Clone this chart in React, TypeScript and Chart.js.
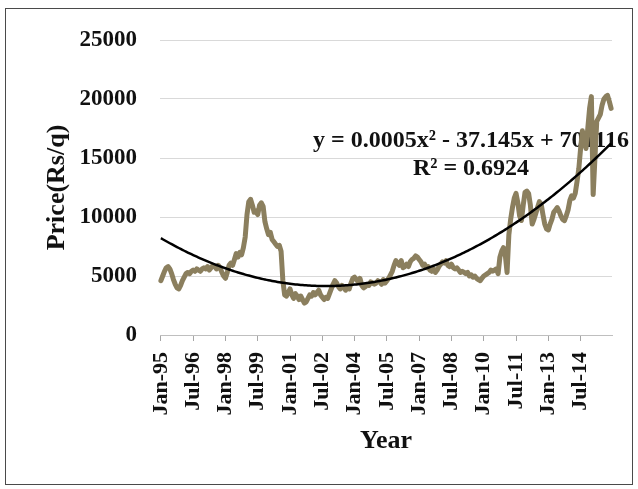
import React, { useEffect, useRef } from "react";
import { Chart, registerables } from "chart.js";

Chart.register(...registerables);

// Monthly price (Rs/q), Jan 1995 – Dec 2015, one row per year
const prices: number[] = [
  4600, 5000, 5400, 5700, 5800, 5600, 5200, 4700, 4300, 4000, 3900, 4200, // 1995
  4600, 4900, 5200, 5300, 5200, 5400, 5500, 5400, 5600, 5500, 5400, 5600, // 1996
  5700, 5600, 5800, 5500, 5700, 5900, 5800, 5600, 5900, 5700, 5300, 5000, // 1997
  4800, 5300, 5900, 6100, 5900, 6400, 6900, 6600, 7000, 6800, 7400, 8300, // 1998
  10200, 11300, 11500, 11000, 10400, 10500, 10200, 11000, 11200, 10900, 9600, 9000, // 1999
  8500, 8700, 8100, 7900, 7700, 7500, 7600, 7100, 4600, 3400, 3300, 3600, // 2000
  3900, 3400, 3100, 3500, 3300, 3000, 3300, 3000, 2700, 2800, 3100, 3400, // 2001
  3300, 3600, 3400, 3600, 3800, 3400, 3200, 3000, 3200, 3100, 3500, 3900, // 2002
  4300, 4600, 4400, 4100, 3900, 4200, 4000, 3800, 4100, 3900, 4400, 4800, // 2003
  4900, 4700, 4500, 4800, 4200, 4000, 4100, 4300, 4200, 4500, 4400, 4300, // 2004
  4400, 4600, 4500, 4300, 4700, 4400, 4600, 4800, 5100, 5400, 5900, 6300, // 2005
  6100, 5900, 6300, 5700, 5800, 6000, 5800, 6200, 6400, 6500, 6700, 6600, // 2006
  6400, 6200, 5900, 6000, 5700, 5800, 5500, 5400, 5600, 5300, 5500, 5800, // 2007
  6000, 6200, 6100, 6300, 5900, 5800, 6000, 5700, 5600, 5700, 5500, 5300, // 2008
  5400, 5300, 5200, 5300, 5000, 5100, 4900, 5000, 4800, 4700, 4600, 4800, // 2009
  5000, 5100, 5200, 5300, 5500, 5400, 5500, 5600, 5200, 6600, 7100, 7400, // 2010
  6800, 5300, 8500, 9800, 10800, 11600, 12000, 11200, 10100, 9700, 11000, 12100, // 2011
  12200, 12000, 11000, 9400, 9800, 10300, 10800, 11300, 11100, 10200, 9400, 9000, // 2012
  8900, 9400, 9800, 10400, 10600, 10800, 10500, 10100, 9800, 9700, 10100, 10600, // 2013
  11400, 11800, 11600, 12000, 13000, 14100, 15800, 17300, 16500, 15800, 17500, 19200, // 2014
  20200, 11900, 15000, 18100, 18400, 18700, 19500, 20000, 20200, 20300, 19800, 19200, // 2015
];

const monthNames = ["Jan", "Feb", "Mar", "Apr", "May", "Jun", "Jul", "Aug", "Sep", "Oct", "Nov", "Dec"];
const firstYear = 1995;
const labelEvery = 18; // one axis label every 18 months

const yTicks = [0, 5000, 10000, 15000, 20000, 25000];
const equationText = "y = 0.0005x\u00B2 - 37.145x + 701116";
const rSquaredText = "R\u00B2 = 0.6924";

const monthLabels: string[] = prices.map((_, i) => {
  const yy = (firstYear + Math.floor(i / 12)) % 100;
  return `${monthNames[i % 12]}-${String(yy).padStart(2, "0")}`;
});

// Least-squares polynomial trend (order 2) over the month index
function quadraticTrend(ys: number[]): number[] {
  let s0 = 0, s1 = 0, s2 = 0, s3 = 0, s4 = 0, t0 = 0, t1 = 0, t2 = 0;
  ys.forEach((y, x) => {
    s0 += 1; s1 += x; s2 += x * x; s3 += x ** 3; s4 += x ** 4;
    t0 += y; t1 += x * y; t2 += x * x * y;
  });
  const m = [
    [s0, s1, s2, t0],
    [s1, s2, s3, t1],
    [s2, s3, s4, t2],
  ];
  for (let c = 0; c < 3; c++) {
    for (let r = c + 1; r < 3; r++) {
      const f = m[r][c] / m[c][c];
      for (let k = c; k < 4; k++) m[r][k] -= f * m[c][k];
    }
  }
  const sol = [0, 0, 0];
  for (let r = 2; r >= 0; r--) {
    let v = m[r][3];
    for (let k = r + 1; k < 3; k++) v -= m[r][k] * sol[k];
    sol[r] = v / m[r][r];
  }
  return ys.map((_, x) => sol[0] + sol[1] * x + sol[2] * x * x);
}

const SERIF = '"Liberation Serif", "Times New Roman", serif';

const equationPlugin = {
  id: "equationLabel",
  beforeDatasetsDraw(chart: any) {
    const { ctx, chartArea } = chart;
    ctx.save();
    ctx.fillStyle = "#111";
    ctx.font = `bold 24px ${SERIF}`;
    ctx.textAlign = "center";
    ctx.textBaseline = "alphabetic";
    const cx = chartArea.right - 141;
    ctx.fillText(equationText, cx, chartArea.top + 107);
    ctx.fillText(rSquaredText, cx, chartArea.top + 135);
    ctx.restore();
  },
};

export default function App() {
  const canvasRef = useRef<HTMLCanvasElement | null>(null);

  useEffect(() => {
    const canvas = canvasRef.current;
    if (!canvas) return;
    const trend = quadraticTrend(prices);
    const chart = new Chart(canvas, {
      type: "line",
      data: {
        labels: monthLabels,
        datasets: [
          {
            label: "Poly. (Price)",
            data: trend,
            borderColor: "#000000",
            borderWidth: 2.5,
            pointRadius: 0,
            tension: 0,
          },
          {
            label: "Price",
            data: prices,
            borderColor: "#8b7f5e",
            borderWidth: 5,
            pointRadius: 0,
            tension: 0,
            borderJoinStyle: "round",
            borderCapStyle: "round",
          },
        ],
      },
      options: {
        animation: false,
        responsive: false,
        maintainAspectRatio: false,
        events: [],
        layout: { padding: { left: 10, top: 40, right: 26, bottom: 20 } },
        plugins: {
          legend: { display: false },
          tooltip: { enabled: false },
        },
        scales: {
          x: {
            type: "category",
            offset: true,
            grid: {
              drawOnChartArea: false,
              drawTicks: true,
              tickLength: 6,
              color: "#a6a6a6",
            },
            border: { display: true, color: "#bfbfbf", width: 1 },
            ticks: {
              autoSkip: false,
              minRotation: 90,
              maxRotation: 90,
              padding: 11,
              color: "#111",
              font: { family: SERIF, size: 22, weight: "bold" },
            },
            afterBuildTicks: (scale: any) => {
              scale.ticks = scale.ticks.filter((t: any) => t.value % labelEvery === 0);
            },
            afterFit: (scale: any) => {
              scale.height = 489 - 335 - 20;
            },
            title: {
              display: true,
              text: "Year",
              color: "#111",
              font: { family: SERIF, size: 26, weight: "bold" },
              padding: { top: 0, bottom: 12 },
            },
          },
          y: {
            min: 0,
            max: 25000,
            afterBuildTicks: (scale: any) => {
              scale.ticks = yTicks.map((v) => ({ value: v }));
            },
            grid: { color: "#d9d9d9", lineWidth: 1, drawTicks: false },
            border: { display: false },
            ticks: {
              padding: 23,
              color: "#111",
              font: { family: SERIF, size: 23, weight: "bold" },
              callback: (value: any) => String(value),
            },
            afterFit: (scale: any) => {
              scale.width = 160 - 10;
            },
            title: {
              display: true,
              text: "Price(Rs/q)",
              color: "#111",
              font: { family: SERIF, size: 26, weight: "bold" },
              padding: { top: 32, bottom: 0 },
            },
          },
        },
      },
      plugins: [equationPlugin],
    });
    return () => chart.destroy();
  }, []);

  return (
    <div
      style={{
        position: "fixed",
        left: 0,
        top: 0,
        width: 638,
        height: 489,
        background: "#ffffff",
      }}
    >
      <canvas ref={canvasRef} width={638} height={489} style={{ position: "absolute", left: 0, top: 0 }} />
      <div
        style={{
          position: "absolute",
          left: 5,
          top: 8,
          width: 626,
          height: 475,
          border: "1.5px solid #4a4a4a",
          pointerEvents: "none",
        }}
      />
    </div>
  );
}
